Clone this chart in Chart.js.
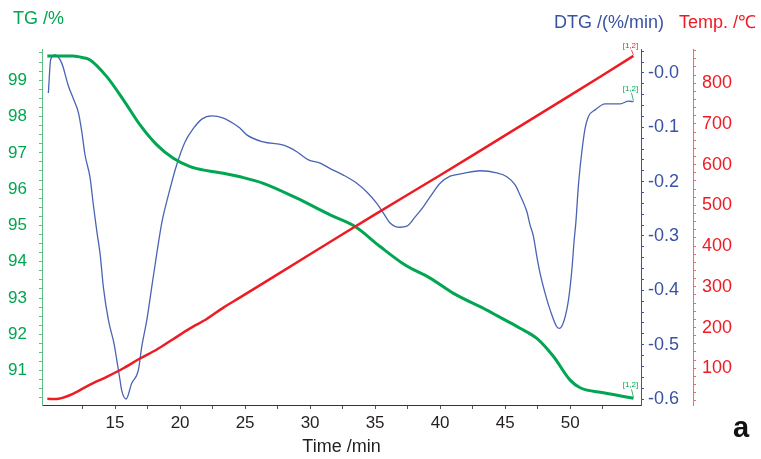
<!DOCTYPE html>
<html>
<head>
<meta charset="utf-8">
<title>TG / DTG / Temperature</title>
<script src="https://cdn.jsdelivr.net/npm/chart.js@4.4.1/dist/chart.umd.min.js"></script>
<style>
    html, body { margin: 0; padding: 0; background: #fff; }
    #wrap { position: relative; width: 761px; height: 459px; }
</style>
</head>
<body>
<div id="wrap"><canvas id="tgChart"></canvas></div>
<script>
// Mass loss (TG), % vs time in min
const tgTime  = [9.79, 11.77, 12.56, 13.08, 14.36, 15.64, 16.92, 18.21, 19.48, 20.77, 22.05, 23.33, 24.62,
                 26.4, 28.98, 31.54, 33.46, 35.38, 37.31, 39.23, 41.03, 43.59, 44.87, 46.15, 47.44, 48.72,
                 50.0, 50.77, 52.56, 54.87];
const tgValue = [99.67, 99.67, 99.62, 99.56, 99.10, 98.46, 97.77, 97.22, 96.85, 96.62, 96.51, 96.44, 96.34,
                 96.16, 95.75, 95.29, 94.97, 94.42, 93.91, 93.55, 93.13, 92.67, 92.42, 92.17, 91.89, 91.39,
                 90.74, 90.53, 90.39, 90.24];

// Derivative (DTG), %/min
const dtgTime  = [9.87, 10.05, 10.38, 10.9, 11.41, 11.8, 12.18, 12.44, 12.69, 13.08, 13.33, 13.6, 13.85,
                  14.1, 14.49, 14.92, 15.13, 15.38, 15.51, 15.85, 16.28, 16.79, 17.05, 17.44, 17.82, 18.21,
                  18.6, 19.1, 19.74, 20.38, 21.03, 21.67, 22.44, 23.33, 24.1, 24.62, 25.13, 26.4, 27.95,
                  28.98, 29.87, 30.77, 31.54, 32.56, 33.59, 34.36, 35.13, 35.64, 36.15, 36.92, 37.44, 38.08,
                  38.72, 39.23, 40.0, 40.77, 41.79, 43.08, 44.36, 45.13, 45.77, 46.15, 46.67, 46.92, 47.18,
                  47.44, 47.69, 48.08, 48.46, 48.97, 49.18, 49.54, 49.87, 50.13, 50.31, 50.44, 50.64, 50.9,
                  51.15, 51.41, 51.92, 52.69, 53.85, 54.49, 54.87];
const dtgValue = [-0.037, 0.025, 0.033, 0.018, -0.024, -0.048, -0.073, -0.108, -0.151, -0.193, -0.243, -0.292, -0.333,
                  -0.394, -0.455, -0.498, -0.528, -0.565, -0.584, -0.600, -0.571, -0.547, -0.504, -0.455, -0.394, -0.332,
                  -0.275, -0.225, -0.169, -0.127, -0.102, -0.085, -0.079, -0.083, -0.093, -0.102, -0.114, -0.127, -0.133,
                  -0.145, -0.160, -0.166, -0.176, -0.188, -0.203, -0.219, -0.24, -0.258, -0.276, -0.284, -0.282, -0.265,
                  -0.246, -0.228, -0.203, -0.19, -0.185, -0.18, -0.184, -0.191, -0.206, -0.225, -0.255, -0.28, -0.301,
                  -0.338, -0.369, -0.406, -0.436, -0.467, -0.470, -0.455, -0.418, -0.363, -0.308, -0.275, -0.206, -0.145,
                  -0.102, -0.080, -0.068, -0.057, -0.057, -0.052, -0.053];

// Furnace temperature, °C
const tempTime  = [9.79, 10.64, 11.8, 13.08, 14.36, 15.64, 16.92, 18.21, 19.49, 20.77, 22.05, 23.33, 24.62,
                   30, 35, 40, 45, 50, 54.87];
const tempValue = [25, 25, 38, 60, 79, 100, 124, 146, 172, 198, 221, 249, 274,
                   380, 478, 574, 672, 770, 867];

// Axis ranges and labelled ticks
const timeRange = [9.38, 55.45];
const tgRange   = [90.055, 99.86];
const dtgRange  = [-0.611, 0.044];
const tempRange = [9.8, 884];
const timeTicks = [15, 20, 25, 30, 35, 40, 45, 50];
const tgTicks   = [91, 92, 93, 94, 95, 96, 97, 98, 99];
const dtgTicks  = [-0.6, -0.5, -0.4, -0.3, -0.2, -0.1, -0.0];
const tempTicks = [100, 200, 300, 400, 500, 600, 700, 800];

const TG_COLOR = '#00a651';
const DTG_COLOR = '#3953a4';
const TEMP_COLOR = '#ed1c24';
const FONT = '"Liberation Sans", Arial, Helvetica, sans-serif';

Chart.defaults.font.family = FONT;

function toPoints(xs, ys) {
    return xs.map((x, i) => ({ x: x, y: ys[i] }));
}

// regular minor ticks every `step` between lo and hi, range kept as given
function stepTicks(range, step, lo, hi) {
    return function(scale) {
        const ticks = [];
        for (let k = Math.ceil(lo / step - 1e-9); k * step <= hi + 1e-9; k++) {
            ticks.push({ value: Math.round(k * step * 1e6) / 1e6 });
        }
        scale.ticks = ticks;
        scale.min = range[0];
        scale.max = range[1];
    };
}

function labelFrom(list, format) {
    return function(value) {
        const hit = list.find(v => Math.abs(v - value) < 1e-6);
        return hit === undefined ? '' : format(hit);
    };
}

function fixedWidth(w) {
    return function(scale) { scale.width = w; };
}

// axis headers, the panel letter and the [1,2] end markers
const decorations = {
    id: 'decorations',
    afterDatasetsDraw(chart) {
        const ctx = chart.ctx;
        ctx.save();
        ctx.textBaseline = 'middle';
        ctx.font = '18px ' + FONT;
        ctx.fillStyle = TG_COLOR;
        ctx.fillText('TG /%', 13, 19);
        ctx.fillStyle = DTG_COLOR;
        ctx.fillText('DTG /(%/min)', 554, 23);
        ctx.fillStyle = TEMP_COLOR;
        ctx.fillText('Temp. /\u2103', 679, 23);

        ctx.fillStyle = '#111';
        ctx.font = 'bold 29px ' + FONT;
        ctx.fillText('a', 733, 429);

        // marker text above the last point of each curve
        const markers = [
            { index: 0, color: TEMP_COLOR, dy: -10 },
            { index: 2, color: TG_COLOR, dy: -13 },
            { index: 1, color: TG_COLOR, dy: -13 }
        ];
        ctx.font = '8px ' + FONT;
        ctx.textAlign = 'center';
        ctx.lineWidth = 0.8;
        markers.forEach(m => {
            const pts = chart.getDatasetMeta(m.index).data;
            const end = pts[pts.length - 1];
            ctx.fillStyle = m.color;
            ctx.strokeStyle = m.color;
            ctx.fillText('[1,2]', end.x - 3, end.y + m.dy);
            ctx.beginPath();
            ctx.moveTo(end.x - 2, end.y + m.dy + 4);
            ctx.lineTo(end.x, end.y - 1);
            ctx.stroke();
        });
        ctx.restore();
    }
};

document.addEventListener('DOMContentLoaded', function() {
    const ctx = document.getElementById('tgChart');

    new Chart(ctx, {
        type: 'line',
        data: {
            datasets: [
                {
                    label: 'Temp.',
                    data: toPoints(tempTime, tempValue),
                    yAxisID: 'yTemp',
                    borderColor: TEMP_COLOR,
                    borderWidth: 2.5,
                    pointRadius: 0,
                    tension: 0.3,
                    order: 0
                },
                {
                    label: 'TG',
                    data: toPoints(tgTime, tgValue),
                    yAxisID: 'yTG',
                    borderColor: TG_COLOR,
                    borderWidth: 3,
                    pointRadius: 0,
                    cubicInterpolationMode: 'monotone',
                    order: 1
                },
                {
                    label: 'DTG',
                    data: toPoints(dtgTime, dtgValue),
                    yAxisID: 'yDTG',
                    borderColor: '#4a64b4',
                    borderWidth: 1.3,
                    pointRadius: 0,
                    cubicInterpolationMode: 'monotone',
                    order: 2
                }
            ]
        },
        options: {
            responsive: true,
            maintainAspectRatio: false,
            animation: false,
            layout: { padding: { top: 49, left: 0, right: 0, bottom: 0 } },
            plugins: {
                legend: { display: false },
                tooltip: { enabled: false }
            },
            scales: {
                x: {
                    type: 'linear',
                    position: 'bottom',
                    min: timeRange[0],
                    max: timeRange[1],
                    border: { display: true, color: '#333', width: 1 },
                    grid: { drawOnChartArea: false, drawTicks: true, tickLength: 4, color: '#555' },
                    ticks: {
                        autoSkip: false,
                        maxRotation: 0,
                        padding: 4,
                        color: '#231f20',
                        font: { size: 17 },
                        callback: labelFrom(timeTicks, v => String(v))
                    },
                    afterBuildTicks: stepTicks(timeRange, 2.5, 12.5, 52.5),
                    afterFit: function(scale) { scale.height = 54; },
                    title: {
                        display: true,
                        text: 'Time /min',
                        color: '#231f20',
                        font: { size: 18 },
                        padding: { top: 0, bottom: 1.5 }
                    }
                },
                yTG: {
                    type: 'linear',
                    position: 'left',
                    min: tgRange[0],
                    max: tgRange[1],
                    border: { display: true, color: '#5cbf85', width: 1 },
                    grid: { drawOnChartArea: false, drawTicks: true, tickLength: 3, color: '#5cbf85' },
                    ticks: {
                        autoSkip: false,
                        padding: 12,
                        color: TG_COLOR,
                        font: { size: 17 },
                        callback: labelFrom(tgTicks, v => String(v))
                    },
                    afterBuildTicks: stepTicks(tgRange, 0.25, tgRange[0], tgRange[1]),
                    afterFit: fixedWidth(42)
                },
                yDTG: {
                    type: 'linear',
                    position: 'right',
                    weight: 0,
                    min: dtgRange[0],
                    max: dtgRange[1],
                    border: { display: true, color: DTG_COLOR, width: 1 },
                    grid: { drawOnChartArea: false, drawTicks: true, tickLength: 3, color: DTG_COLOR },
                    ticks: {
                        autoSkip: false,
                        padding: 4,
                        color: DTG_COLOR,
                        font: { size: 18 },
                        callback: labelFrom(dtgTicks, v => '-' + Math.abs(v).toFixed(1))
                    },
                    afterBuildTicks: stepTicks(dtgRange, 0.02, dtgRange[0], dtgRange[1]),
                    afterFit: fixedWidth(52)
                },
                yTemp: {
                    type: 'linear',
                    position: 'right',
                    weight: 1,
                    min: tempRange[0],
                    max: tempRange[1],
                    border: { display: true, color: '#f26b6b', width: 1 },
                    grid: { drawOnChartArea: false, drawTicks: true, tickLength: 3, color: '#f26b6b' },
                    ticks: {
                        autoSkip: false,
                        padding: 6,
                        color: TEMP_COLOR,
                        font: { size: 18 },
                        callback: labelFrom(tempTicks, v => String(v))
                    },
                    afterBuildTicks: stepTicks(tempRange, 20, tempRange[0], tempRange[1]),
                    afterFit: fixedWidth(68)
                }
            }
        },
        plugins: [decorations]
    });
});
</script>
</body>
</html>
